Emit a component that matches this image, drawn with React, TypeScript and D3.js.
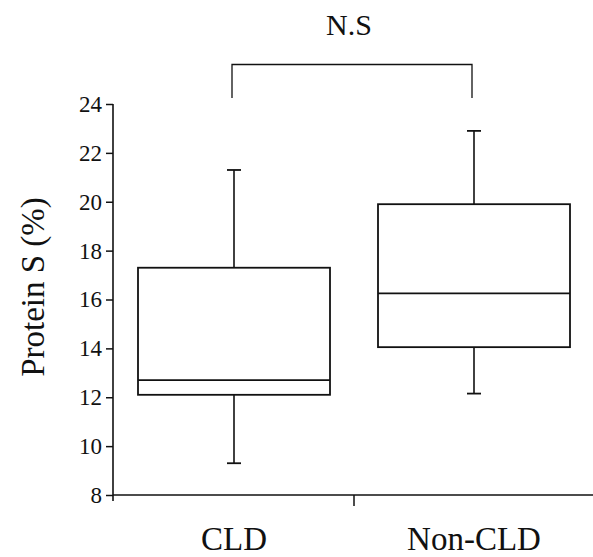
import React, { useEffect, useRef } from 'react';
import * as d3 from 'd3';

const groups = ['CLD', 'Non-CLD'];
const whiskerLow = [9.3, 12.15];
const q1 = [12.1, 14.05];
const median = [12.7, 16.25];
const q3 = [17.3, 19.9];
const whiskerHigh = [21.3, 22.9];
const yTicks = [8, 10, 12, 14, 16, 18, 20, 22, 24];
const sigLabel = 'N.S';

const W = 593;
const H = 557;
const INK = '#111';
const FONT = "'Liberation Serif', 'Times New Roman', serif";

const App = () => {
  const ref = useRef<SVGSVGElement>(null);

  useEffect(() => {
    const svg = d3.select(ref.current);
    svg.selectAll('*').remove();

    const y = d3.scaleLinear().domain([8, 24]).range([495, 104]);
    const x = d3.scaleBand().domain(groups).range([114, 594]).padding(0);
    const bw = x.bandwidth() * 0.8;
    const cx = (g: string) => (x(g) as number) + x.bandwidth() / 2;

    // y axis
    const yAxis = svg.append('g').attr('transform', 'translate(113,0)')
      .call(d3.axisLeft(y).tickValues(yTicks).tickSize(7).tickPadding(4).tickFormat(d3.format('d')));
    yAxis.attr('font-family', null).attr('font-size', null);
    yAxis.select('.domain').remove();
    yAxis.selectAll('line').attr('stroke', INK).attr('stroke-width', 1.5);
    yAxis.selectAll('text').attr('fill', INK).attr('font-size', 23);
    svg.append('line').attr('x1', 113).attr('x2', 113).attr('y1', y(24)).attr('y2', y(8) + 6)
      .attr('stroke', INK).attr('stroke-width', 1.6);

    // x axis
    svg.append('line').attr('x1', 113).attr('x2', W).attr('y1', y(8)).attr('y2', y(8))
      .attr('stroke', INK).attr('stroke-width', 1.6);
    svg.append('line').attr('x1', x('Non-CLD') as number).attr('x2', x('Non-CLD') as number)
      .attr('y1', y(8)).attr('y2', y(8) + 11).attr('stroke', INK).attr('stroke-width', 1.5);
    svg.selectAll('text.xl').data(groups).enter().append('text').attr('class', 'xl')
      .attr('x', d => cx(d)).attr('y', 550).attr('text-anchor', 'middle')
      .attr('fill', INK).attr('font-size', 33).text(d => d);

    // y label
    svg.append('text').attr('transform', `translate(44,287) rotate(-90)`)
      .attr('text-anchor', 'middle').attr('fill', INK)
      .attr('font-size', 33).text('Protein S (%)');

    // boxes
    const box = svg.selectAll('g.box').data(groups).enter().append('g').attr('class', 'box');
    box.append('line').attr('x1', d => cx(d)).attr('x2', d => cx(d))
      .attr('y1', (_, i) => y(whiskerLow[i])).attr('y2', (_, i) => y(whiskerHigh[i]))
      .attr('stroke', INK).attr('stroke-width', 1.6);
    box.append('rect').attr('x', d => cx(d) - bw / 2).attr('width', bw)
      .attr('y', (_, i) => y(q3[i])).attr('height', (_, i) => y(q1[i]) - y(q3[i]))
      .attr('fill', 'white').attr('stroke', INK).attr('stroke-width', 1.8);
    box.append('line').attr('x1', d => cx(d) - bw / 2).attr('x2', d => cx(d) + bw / 2)
      .attr('y1', (_, i) => y(median[i])).attr('y2', (_, i) => y(median[i]))
      .attr('stroke', INK).attr('stroke-width', 1.6);
    [whiskerLow, whiskerHigh].forEach(arr => {
      box.append('line').attr('x1', d => cx(d) - 7).attr('x2', d => cx(d) + 7)
        .attr('y1', (_, i) => y(arr[i])).attr('y2', (_, i) => y(arr[i]))
        .attr('stroke', INK).attr('stroke-width', 1.8);
    });

    // significance bracket
    const bx1 = cx(groups[0]) - 2;
    const bx2 = cx(groups[1]) - 2;
    svg.append('path').attr('d', `M${bx1},98V64.5H${bx2}V98`).attr('fill', 'none')
      .attr('stroke', INK).attr('stroke-width', 1.3);
    svg.append('text').attr('x', (bx1 + bx2) / 2 - 3).attr('y', 35).attr('text-anchor', 'middle')
      .attr('fill', INK).attr('font-size', 30).text(sigLabel);
  }, []);

  return (
    <svg ref={ref} width={W} height={H} style={{ position: 'absolute', left: 0, top: 0, background: 'white', fontFamily: FONT }} />
  );
};

export default App;
